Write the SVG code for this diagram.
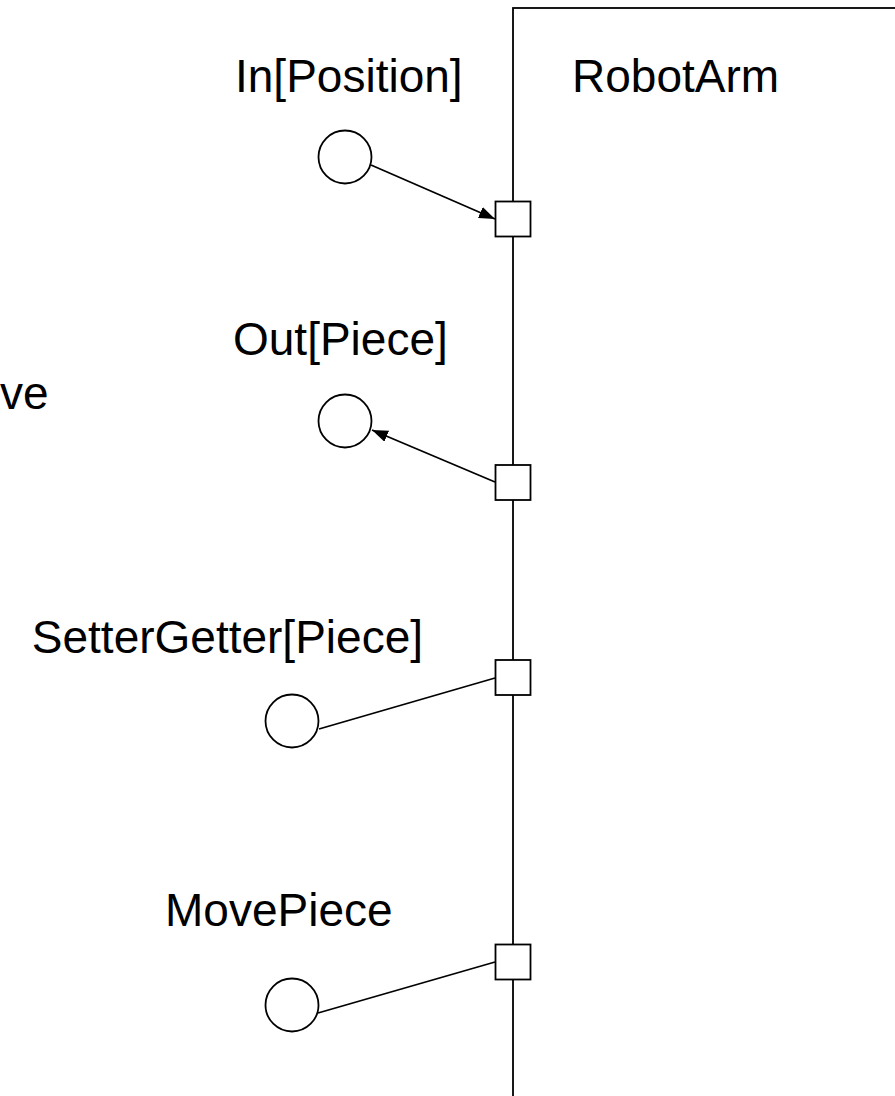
<svg xmlns="http://www.w3.org/2000/svg" width="895" height="1096" viewBox="0 0 895 1096">
<style>
.t{font-family:"Liberation Sans",Arial,sans-serif;font-size:46px;fill:#000}
.s{fill:#fff;stroke:#000;stroke-width:1.8}
.c{fill:none;stroke:#000;stroke-width:1.8}
</style>
<defs>
<marker id="ah" viewBox="0 0 16 12" refX="16" refY="6" markerWidth="16" markerHeight="12" markerUnits="userSpaceOnUse" orient="auto">
<path d="M0,0 L16,6 L0,12 z" fill="#000"/>
</marker>
</defs>
<rect width="895" height="1096" fill="#fff"/>
<g id="robotarm">
<rect class="s" x="513" y="8" width="500" height="1200"/>
<text class="t" x="572" y="92">RobotArm</text>
</g>
<text class="t" x="0" y="409">ve</text>
<g id="connectors">
<line class="c" x1="371" y1="165" x2="495" y2="219" marker-end="url(#ah)"/>
<line class="c" x1="495" y1="482" x2="372" y2="430" marker-end="url(#ah)"/>
<line class="c" x1="319" y1="729" x2="495" y2="678"/>
<line class="c" x1="318" y1="1013" x2="495" y2="962"/>
</g>
<g id="in-position">
<text class="t" x="235" y="92">In[Position]</text>
<circle class="s" cx="345" cy="157" r="26.5"/>
<rect class="s" x="495.5" y="201.5" width="35" height="35"/>
</g>
<g id="out-piece">
<text class="t" x="233" y="355">Out[Piece]</text>
<circle class="s" cx="345" cy="421" r="26.5"/>
<rect class="s" x="495.5" y="465" width="35" height="35"/>
</g>
<g id="settergetter-piece">
<text class="t" x="423" y="653" text-anchor="end">SetterGetter[Piece]</text>
<circle class="s" cx="292" cy="721" r="26.5"/>
<rect class="s" x="495.5" y="660" width="35" height="35"/>
</g>
<g id="movepiece">
<text class="t" x="165" y="926">MovePiece</text>
<circle class="s" cx="292" cy="1005" r="26.5"/>
<rect class="s" x="495.5" y="944.5" width="35" height="35"/>
</g>
</svg>
